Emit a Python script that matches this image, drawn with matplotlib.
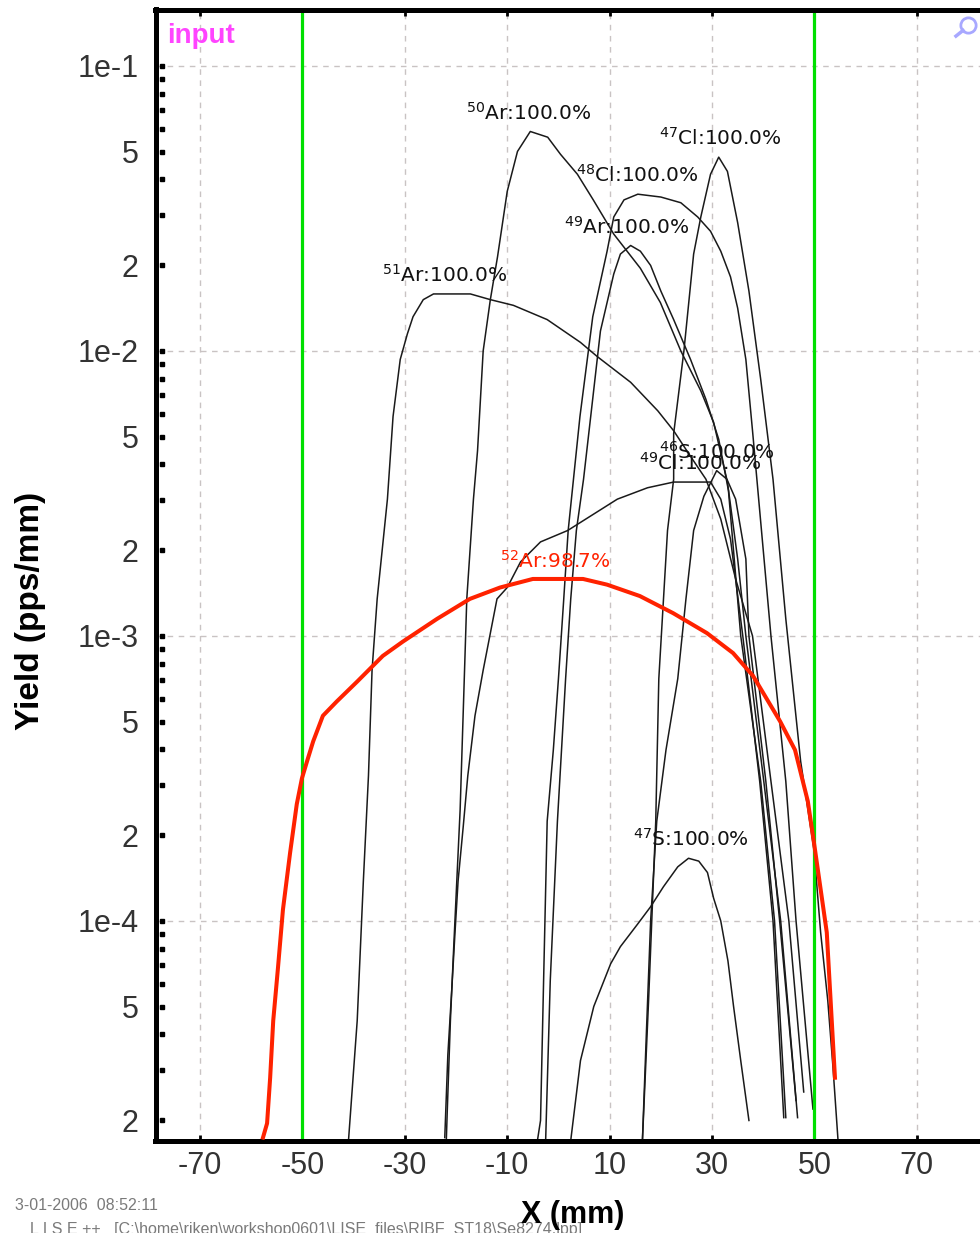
import numpy as np
import matplotlib.pyplot as plt
from matplotlib.transforms import blended_transform_factory

#====================1======================
#   fragment yield profiles at the focal plane
#   x in mm, yield given as log10(pps/mm)
#===========================================
ar52_x  = [-57.7, -56.9, -56.3, -55.7, -54.8, -53.8, -52.4, -51.1, -50.1, -49.1, -47.9,
           -46.0, -43.3, -39.3, -34.3, -30.4, -23.7, -17.3, -11.4, -5.0, 0.0, 4.8, 9.5,
           15.9, 22.4, 29.0, 34.1, 38.0, 43.3, 46.2, 48.7, 50.1, 52.4, 54.0]
ar52_lg = [-4.76, -4.71, -4.55, -4.35, -4.17, -3.96, -3.76, -3.59, -3.50, -3.44, -3.37,
           -3.28, -3.23, -3.16, -3.07, -3.02, -2.94, -2.87, -2.83, -2.80, -2.80, -2.80, -2.82,
           -2.86, -2.92, -2.99, -3.06, -3.14, -3.30, -3.40, -3.58, -3.75, -4.04, -4.55]

ar51_x  = [-41.0, -39.3, -38.1, -37.1, -36.4, -35.4, -33.4, -32.3, -30.9, -29.5, -28.4,
           -26.4, -24.4, -17.2, -13.3, -8.8, -2.2, 4.3, 7.6, 14.1, 19.4, 22.5, 25.8, 28.8,
           31.7, 34.6, 37.9, 41.5, 45.0, 47.9]
ar51_lg = [-4.77, -4.35, -3.86, -3.49, -3.12, -2.87, -2.52, -2.23, -2.03, -1.94, -1.88,
           -1.82, -1.80, -1.80, -1.82, -1.84, -1.89, -1.97, -2.02, -2.11, -2.21, -2.28, -2.37,
           -2.45, -2.59, -2.80, -3.00, -3.51, -4.00, -4.60]

ar50_x  = [-21.9, -21.7, -21.1, -20.5, -19.8, -19.2, -18.6, -17.9, -16.6, -15.8, -14.7,
           -13.3, -11.9, -10.0, -8.0, -5.5, -2.1, 0.4, 3.7, 6.8, 10.8, 16.0, 19.9, 23.9,
           27.8, 30.3, 33.0, 35.0, 36.6, 40.1, 43.4, 46.7]
ar50_lg = [-4.77, -4.66, -4.35, -4.11, -3.84, -3.61, -3.27, -2.87, -2.52, -2.35, -2.00,
           -1.82, -1.67, -1.44, -1.30, -1.23, -1.25, -1.31, -1.38, -1.47, -1.59, -1.71, -1.83,
           -2.00, -2.14, -2.25, -2.46, -2.73, -3.00, -3.51, -4.00, -4.69]

ar49_x  = [-2.5, -1.6, -0.2, 0.6, 1.4, 2.4, 3.5, 4.9, 6.3, 8.2, 10.8, 12.1, 14.1, 16.0,
           18.0, 20.0, 22.5, 25.8, 28.8, 31.3, 33.2, 35.6, 39.5, 42.2, 44.4]
ar49_lg = [-4.77, -4.21, -3.65, -3.40, -3.15, -2.87, -2.63, -2.45, -2.23, -1.93, -1.73,
           -1.66, -1.63, -1.65, -1.70, -1.79, -1.89, -2.03, -2.17, -2.31, -2.49, -3.00,
           -3.51, -4.00, -4.69]

cl49_x  = [-22.2, -21.6, -20.8, -20.2, -19.6, -18.6, -17.7, -16.3, -14.7, -12.0, -10.0,
           -7.4, -3.5, 1.8, 11.5, 17.4, 22.5, 29.7, 31.7, 33.6, 36.0, 39.3, 41.9, 44.0]
cl49_lg = [-4.76, -4.47, -4.23, -4.04, -3.86, -3.67, -3.49, -3.28, -3.12, -2.87, -2.83,
           -2.74, -2.67, -2.63, -2.52, -2.48, -2.46, -2.46, -2.52, -2.66, -3.00, -3.51,
           -4.00, -4.69]

cl48_x  = [-4.1, -3.5, -2.9, -2.2, -1.0, 0.0, 1.0, 1.9, 4.2, 6.7, 9.5, 10.8, 12.8, 15.5,
           20.0, 23.9, 27.2, 29.7, 31.7, 33.6, 35.0, 36.6, 37.9, 39.1, 40.5, 41.5, 44.4,
           46.4, 49.7]
cl48_lg = [-4.77, -4.70, -4.21, -3.65, -3.40, -3.15, -2.88, -2.63, -2.23, -1.88, -1.65,
           -1.53, -1.47, -1.45, -1.46, -1.48, -1.53, -1.58, -1.65, -1.74, -1.85, -2.03,
           -2.28, -2.52, -2.80, -3.00, -3.51, -4.00, -4.66]

cl47_x  = [16.4, 17.6, 19.0, 19.6, 21.3, 22.5, 22.5, 24.5, 26.4, 27.8, 29.7, 31.3, 33.0,
           35.0, 37.2, 39.5, 41.9, 44.4, 47.3, 49.9, 51.2, 52.6, 53.6, 54.6]
cl47_lg = [-4.77, -4.28, -3.65, -3.15, -2.63, -2.45, -2.29, -2.00, -1.66, -1.53, -1.38,
           -1.32, -1.37, -1.55, -1.79, -2.10, -2.45, -2.94, -3.44, -3.75, -4.04, -4.28,
           -4.51, -4.77]

s46_x  = [16.4, 17.2, 18.0, 19.2, 21.0, 23.3, 24.9, 26.4, 28.4, 30.9, 32.9, 34.6, 36.6,
          37.2, 40.5, 43.2, 46.4]
s46_lg = [-4.77, -4.38, -4.00, -3.65, -3.40, -3.15, -2.87, -2.63, -2.51, -2.42, -2.45,
          -2.52, -2.73, -3.00, -3.51, -4.00, -4.63]

s47_x  = [2.4, 4.3, 6.9, 10.2, 12.1, 15.5, 18.0, 20.5, 23.3, 25.4, 27.4, 29.1, 30.3,
          31.7, 33.1, 34.2, 35.6, 37.2]
s47_lg = [-4.77, -4.49, -4.30, -4.15, -4.09, -4.01, -3.95, -3.88, -3.81, -3.78, -3.79,
          -3.83, -3.92, -4.00, -4.14, -4.30, -4.49, -4.70]

# fragment labels : isotope and transmission
ar52_lab = r'$^{52}$Ar:98.7%'
ar51_lab = r'$^{51}$Ar:100.0%'
ar50_lab = r'$^{50}$Ar:100.0%'
ar49_lab = r'$^{49}$Ar:100.0%'
cl49_lab = r'$^{49}$Cl:100.0%'
cl48_lab = r'$^{48}$Cl:100.0%'
cl47_lab = r'$^{47}$Cl:100.0%'
s46_lab  = r'$^{46}$S:100.0%'
s47_lab  = r'$^{47}$S:100.0%'

slit_x = [-50, 50]   # slit edges (mm)

# y tick labels
ytick_val = [2e-5, 5e-5, 1e-4, 2e-4, 5e-4, 1e-3, 2e-3, 5e-3, 1e-2, 2e-2, 5e-2, 1e-1]
ytick_lab = ['2', '5', '1e-4', '2', '5', '1e-3', '2', '5', '1e-2', '2', '5', '1e-1']
xtick_val = [-70, -50, -30, -10, 10, 30, 50, 70]

#====================2======================
#                  plot
#===========================================
plt.rcParams['font.family'] = ['Liberation Sans', 'DejaVu Sans']
plt.rcParams['mathtext.fontset'] = 'dejavusans'

W, H = 980, 1233
fig = plt.figure(figsize=(W/100, H/100), dpi=100)
x0, x1, y0, y1 = 155.5, 985, 9.5, 1141          # axes box in pixels
ax = fig.add_axes([x0/W, 1 - y1/H, (x1 - x0)/W, (y1 - y0)/H])
ax.set_yscale('log')
ax.set_xlim(-78.69, 83.3)
ax.set_ylim(10**-4.772, 10**-0.802)

# grid
for xv in xtick_val:
    ax.axvline(xv, color='#c9c3c3', lw=1.0, ls=(0, (4, 4)), zorder=0)
for yv in [1e-4, 1e-3, 1e-2, 1e-1]:
    ax.axhline(yv, color='#c9c3c3', lw=1.0, ls=(0, (4, 4)), zorder=0)

# slits
for sx in slit_x:
    ax.axvline(sx, color='#00e000', lw=2.3, zorder=2.5)

lab_font = dict(family='DejaVu Sans', size=14.5)
curves = [(ar51_x, ar51_lg, ar51_lab, 11),
          (ar50_x, ar50_lg, ar50_lab, -2),
          (ar49_x, ar49_lg, ar49_lab, -4),
          (cl49_x, cl49_lg, cl49_lab, 27),
          (cl48_x, cl48_lg, cl48_lab, 0),
          (cl47_x, cl47_lg, cl47_lab, 2),
          (s46_x,  s46_lg,  s46_lab,  0),
          (s47_x,  s47_lg,  s47_lab,  2)]
for cx, clg, lab, dx in curves:
    cy = 10.0**np.array(clg)
    ax.plot(cx, cy, color='#1a1a1a', lw=1.1, zorder=2)
    k = int(np.argmax(cy))
    ax.annotate(lab, (cx[k], cy[k]), xytext=(dx, 19), textcoords='offset pixels',
                ha='center', va='center', color='#111111', zorder=4, **lab_font)

ar52_y = 10.0**np.array(ar52_lg)
ax.plot(ar52_x, ar52_y, color='#ff2200', lw=2.9, zorder=3)
k = int(np.argmax(ar52_y))
ax.annotate(ar52_lab, (ar52_x[k], ar52_y[k]), xytext=(23, 18), textcoords='offset pixels',
            ha='center', va='center', color='#ff2200', zorder=4, **lab_font)

# spines and ticks
for s in ['left', 'top', 'bottom']:
    ax.spines[s].set_linewidth(3.6)
ax.spines['right'].set_visible(False)
ax.set_xticks(xtick_val)
ax.set_xticklabels([str(v) for v in xtick_val])
ax.tick_params(axis='x', which='major', direction='in', length=4, width=2,
               top=True, labelsize=22, labelcolor='#333333', pad=7)
ax.set_yticks(ytick_val)
ax.set_yticklabels(ytick_lab)
ax.yaxis.set_minor_locator(plt.NullLocator())
ax.tick_params(axis='y', which='major', length=0, labelsize=22,
               labelcolor='#333333', pad=12)

# square minor marks along the y axis
marks = [m*10.0**d for d in range(-5, 0) for m in range(1, 10)]
marks = [v for v in marks if 10**-4.772 < v <= 0.1001]
trans = blended_transform_factory(ax.transAxes, ax.transData)
ax.plot([0.0078]*len(marks), marks, 's', ms=3.2, color='black', transform=trans,
        clip_on=False, zorder=5)

# labels and annotations
fig.text(30/W, 1 - 611/H, 'Yield (pps/mm)', rotation=90, ha='center', va='center',
         fontsize=24, fontweight='bold')
fig.text(167/W, 1 - 36/H, 'input', ha='left', va='center', fontsize=20,
         fontweight='bold', color='#ff44ff')
fig.text(15/W, 1 - 1206/H, '3-01-2006  08:52:11', ha='left', va='center',
         fontsize=11.5, color='#7a7a7a')
fig.text(30/W, 1 - 1222/H,
         'L I S E ++   [C:\\home\\riken\\workshop0601\\LISE_files\\RIBF_ST18\\Se8274.lpp]',
         ha='left', va='top', fontsize=11.5, color='#7a7a7a')
fig.text(573/W, 1 - 1215/H, 'X (mm)', ha='center', va='center', fontsize=22,
         fontweight='bold')

# zoom icon
ax.plot([0.9795], [0.9863], 'o', ms=11, mfc='none', mec='#a8a8ff', mew=2,
        transform=ax.transAxes, clip_on=False, zorder=6)
ax.plot([0.9650, 0.9735], [0.9765, 0.9815], color='#a8a8ff', lw=2.5,
        transform=ax.transAxes, clip_on=False, zorder=6)

fig.savefig('out.png', dpi=100)
